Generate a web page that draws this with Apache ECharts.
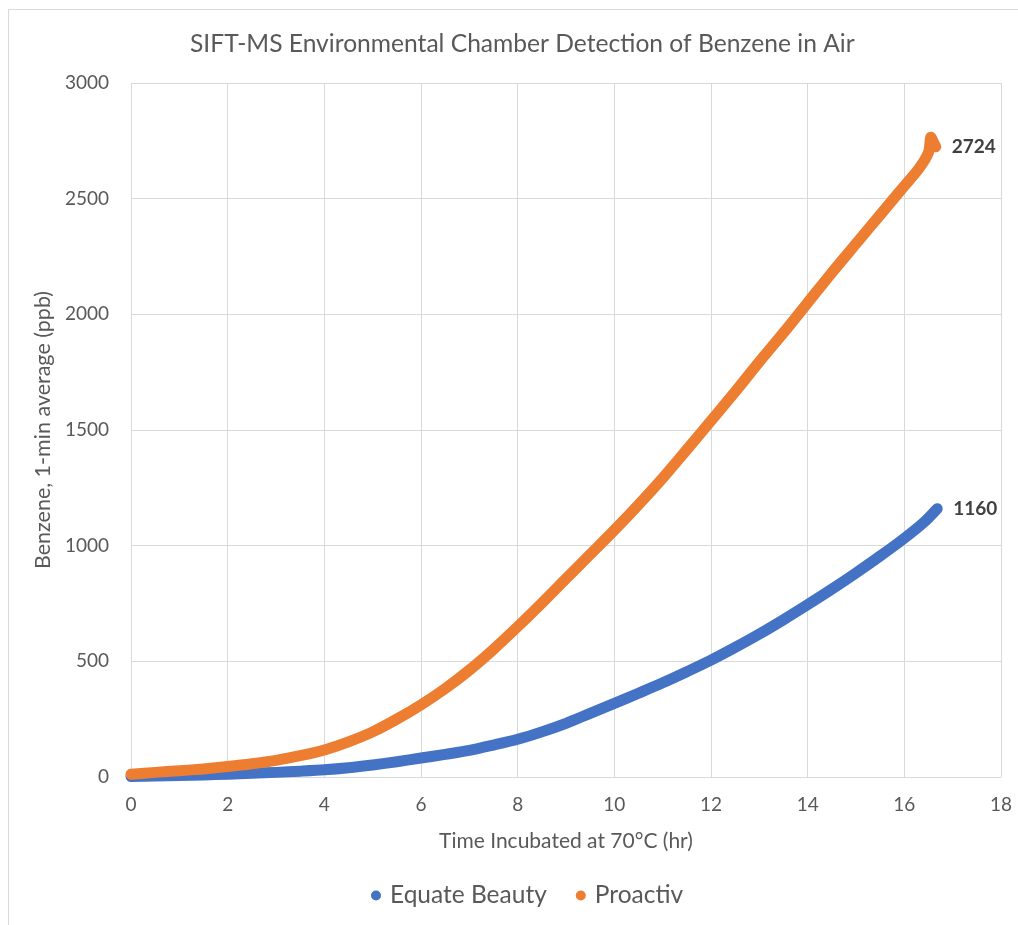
<!DOCTYPE html>
<html>
<head>
<meta charset="utf-8">
<script src="https://cdn.jsdelivr.net/npm/echarts@6/dist/echarts.min.js"></script>
<style>html,body{margin:0;padding:0;background:#fff}#c{width:1018px;height:925px}</style>
</head>
<body>
<div id="c"></div>
<script>
var hoursEquate = [0,0.5,1,1.5,2,2.5,3,3.5,4,4.5,5,5.5,6,6.5,7,7.5,8,8.5,9,9.5,10,10.5,11,11.5,12,12.5,13,13.5,14,14.5,15,15.5,16,16.4,16.68];
var equateBeauty = [2,4,6,9,12,16,20,25,31,40,52,66,82,98,115,138,163,195,232,275,318,362,407,455,505,560,618,680,745,812,882,955,1032,1100,1160];
var hoursProactiv = [0,0.5,1,1.5,2,2.5,3,3.5,4,4.5,5,5.5,6,6.5,7,7.5,8,8.5,9,9.5,10,10.5,11,11.5,12,12.5,13,13.5,14,14.5,15,15.5,16,16.3,16.5,16.55,16.6,16.65];
var proactiv = [12,20,27,35,45,57,72,92,117,152,195,250,312,382,462,552,650,752,857,962,1067,1177,1292,1415,1540,1665,1795,1920,2050,2180,2305,2430,2555,2630,2700,2765,2745,2724];
var seriesNames = ['Equate Beauty','Proactiv'];
var xTicks = {min:0,max:18,interval:2};
var yTicks = {min:0,max:3000,interval:500};

function pairs(xs, ys){ return xs.map(function(x,i){return [x, ys[i]];}); }

var chart = echarts.init(document.getElementById('c'));
var font = 'Lato, "Open Sans", sans-serif';
chart.setOption({
  backgroundColor:'#fff',
  animation:false,
  title:{text:'SIFT-MS Environmental Chamber Detection of Benzene in Air',left:185,top:27,
    textStyle:{fontFamily:font,fontSize:24.6,fontWeight:'normal',color:'#595959'}},
  graphic:[{type:'rect',shape:{x:8.5,y:9.5,width:1020,height:930},style:{fill:'none',stroke:'#d9d9d9',lineWidth:1},silent:true}],
  grid:{left:131,right:17,top:83,bottom:148},
  legend:{bottom:12,left:366,icon:'circle',itemWidth:18,itemHeight:10,itemGap:29,
    textStyle:{fontFamily:font,fontSize:24.5,color:'#595959'},data:seriesNames},
  xAxis:{type:'value',min:xTicks.min,max:xTicks.max,interval:xTicks.interval,
    name:'Time Incubated at 70°C (hr)',nameLocation:'middle',nameGap:54,
    nameTextStyle:{fontFamily:font,fontSize:21,color:'#595959'},
    axisLine:{show:true,lineStyle:{color:'#d9d9d9',width:1}},axisTick:{show:false},
    axisLabel:{fontFamily:font,fontSize:19,color:'#595959',margin:18},
    splitLine:{show:true,lineStyle:{color:'#d9d9d9',width:1}}},
  yAxis:{type:'value',min:yTicks.min,max:yTicks.max,interval:yTicks.interval,
    name:'Benzene, 1-min average (ppb)',nameLocation:'middle',nameGap:76,
    nameTextStyle:{fontFamily:font,fontSize:21.5,color:'#595959'},
    axisLine:{show:false},axisTick:{show:false},
    axisLabel:{fontFamily:font,fontSize:19,color:'#595959',margin:22,formatter:function(v){return String(v);}},
    splitLine:{show:true,lineStyle:{color:'#d9d9d9',width:1}}},
  series:[
    {name:seriesNames[0],type:'line',data:pairs(hoursEquate,equateBeauty),showSymbol:false,smooth:0.3,
      itemStyle:{color:'#4472C4'},lineStyle:{color:'#4472C4',width:11,cap:'round',join:'round'},
      endLabel:{show:true,formatter:function(p){return p.value[1];},distance:16,
        fontFamily:font,fontSize:19,fontWeight:'bold',color:'#404040'}},
    {name:seriesNames[1],type:'line',data:pairs(hoursProactiv,proactiv),showSymbol:false,smooth:0.3,
      itemStyle:{color:'#ED7D31'},lineStyle:{color:'#ED7D31',width:11,cap:'round',join:'round'},
      endLabel:{show:true,formatter:function(p){return p.value[1];},distance:16,
        fontFamily:font,fontSize:19,fontWeight:'bold',color:'#404040'}}
  ]
});
</script>
</body>
</html>
